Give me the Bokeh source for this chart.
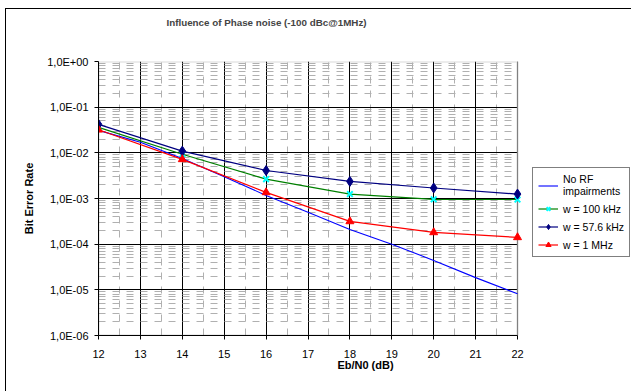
from bokeh.plotting import figure
from bokeh.models import (Range1d, FixedTicker, CustomJSTickFormatter, Legend,
                          LegendItem, Title, BoxAnnotation)
from bokeh.embed import file_html
from bokeh.resources import INLINE

# ---------------- data ----------------
ebn0 = [12, 14, 16, 18, 20, 22]
ber_w100k = [0.036, 0.0093, 0.00266, 0.00125, 0.00096, 0.00095]
ber_w57k = [0.042, 0.0109, 0.0041, 0.00237, 0.0017, 0.00125]
ber_w1M = [0.032, 0.0072, 0.00136, 0.000315, 0.000181, 0.000141]

ebn0_norf = [12, 13, 14, 15, 16, 17, 18, 19, 20, 21, 22]
ber_norf = [0.031, 0.017, 0.0075, 0.0030, 0.00117, 0.0005, 0.00021,
            0.0001, 0.000044, 0.0000185, 0.0000082]

x_ticks = [12, 13, 14, 15, 16, 17, 18, 19, 20, 21, 22]
y_ticks = [1e-6, 1e-5, 1e-4, 1e-3, 1e-2, 1e-1, 1e0]
y_tick_labels = ["1,0E-06", "1,0E-05", "1,0E-04", "1,0E-03",
                 "1,0E-02", "1,0E-01", "1,0E+00"]

title_text = "Influence of Phase noise (-100 dBc@1MHz)"
x_label = "Eb/N0 (dB)"
y_label = "Bit Error Rate"
series_names = ["No RF\nimpairments", "w = 100 kHz", "w = 57.6 kHz", "w = 1 MHz"]

FONT = "Liberation Sans"

X0, X1 = x_ticks[0], x_ticks[-1]
Y0, Y1 = y_ticks[0], y_ticks[-1]
# frame extends to the right edge so that the legend (drawn inside it) is not clipped
px_per_unit = 41.9
frame_right_extra = 115 / px_per_unit

# ---------------- figure ----------------
p = figure(width=626, height=383, y_axis_type="log",
           x_range=Range1d(X0, X1 + frame_right_extra), y_range=Range1d(Y0, Y1),
           output_backend="svg", toolbar_location=None,
           min_border_left=92, min_border_right=0,
           min_border_top=52, min_border_bottom=57)
p.styles = {"margin-left": "5px", "margin-top": "8px",
            "border-left": "1px solid black", "border-top": "1px solid black"}

# trailing empty lines lift the title away from the plot area
p.add_layout(Title(text=title_text + "\n\n", text_font=FONT,
                   text_font_size="9.8px", text_font_style="bold",
                   text_line_height=1.45,
                   align="left", offset=68, vertical_align="top",
                   standoff=0), "above")

p.background_fill_color = "white"
p.border_fill_color = "white"
p.outline_line_color = None

# ticks
p.xaxis.ticker = FixedTicker(ticks=x_ticks,
                             minor_ticks=[t + 0.5 for t in x_ticks[:-1]])
minor_y = [k * 10.0 ** e for e in range(-6, 0) for k in range(2, 10)]
p.yaxis.ticker = FixedTicker(ticks=y_ticks, minor_ticks=minor_y)
p.yaxis.formatter = CustomJSTickFormatter(
    args=dict(labels=y_tick_labels),
    code="return labels[Math.round(Math.log10(tick)) + 6];")
p.xaxis.bounds = (X0, X1)

for ax in (p.xaxis[0], p.yaxis[0]):
    ax.axis_line_color = "black"
    ax.axis_line_width = 1
    ax.major_tick_line_color = "black"
    ax.minor_tick_line_color = None
    ax.major_label_text_font = FONT
    ax.major_label_text_font_size = "11px"
    ax.major_label_text_color = "black"
    ax.axis_label_text_font = FONT
    ax.axis_label_text_font_size = "11px"
    ax.axis_label_text_font_style = "bold"
    ax.axis_label_text_color = "black"

p.xaxis.major_tick_in = 0
p.xaxis.major_tick_out = 4
p.xaxis.major_label_standoff = 10
p.xaxis.axis_label = x_label
p.xaxis.axis_label_standoff = -2
p.yaxis.major_tick_in = 0
p.yaxis.major_tick_out = 4
p.yaxis.major_label_standoff = 6
p.yaxis.axis_label = y_label
p.yaxis.axis_label_standoff = 9

# grids
for g in (p.xgrid[0], p.ygrid[0]):
    g.grid_line_color = "black"
    g.grid_line_width = 1
    g.grid_line_alpha = 1
    g.minor_grid_line_color = "#b0b0b0"
    g.minor_grid_line_width = 1
    g.minor_grid_line_dash = "7 7"

# white cover for the part of the frame right of the plot area
p.add_layout(BoxAnnotation(left=X1, fill_color="white", fill_alpha=1,
                           line_color=None, level="underlay"))
# plot-area border
p.add_layout(BoxAnnotation(left=X0, right=X1, bottom=Y0, top=Y1,
                           fill_alpha=0, line_color="#808080", line_width=2,
                           level="underlay"))

# series
r_norf = p.line(ebn0_norf, ber_norf, line_color="#0000FF", line_width=1.1)
r_100_l = p.line(ebn0, ber_w100k, line_color="#008000", line_width=1.2)
r_100_m = p.scatter(ebn0, ber_w100k, marker="x", size=8, line_color="#00FFFF",
                    line_width=2)
r_57_l = p.line(ebn0, ber_w57k, line_color="#000080", line_width=1.2)
r_57_m = p.scatter(ebn0, ber_w57k, marker="diamond", size=10,
                   fill_color="#000080", line_color="#000080")
r_1M_l = p.line(ebn0, ber_w1M, line_color="#FF0000", line_width=1.2)
r_1M_m = p.scatter(ebn0, ber_w1M, marker="triangle", size=8,
                   fill_color="#FF0000", line_color="#FF0000")

legend = Legend(items=[
    LegendItem(label=series_names[0], renderers=[r_norf]),
    LegendItem(label=series_names[1], renderers=[r_100_l, r_100_m]),
    LegendItem(label=series_names[2], renderers=[r_57_l, r_57_m]),
    LegendItem(label=series_names[3], renderers=[r_1M_l, r_1M_m]),
], location=(434, 78))
legend.label_text_font = FONT
legend.label_text_font_size = "10.5px"
legend.label_text_color = "black"
legend.label_text_line_height = 1.0
legend.border_line_color = "black"
legend.border_line_width = 1
legend.background_fill_color = "white"
legend.background_fill_alpha = 1
legend.glyph_width = 20
legend.glyph_height = 13
legend.label_standoff = 5
legend.spacing = 5
legend.padding = 5
legend.margin = 0
p.add_layout(legend, "center")

open("out.html", "w").write(file_html(p, INLINE))
